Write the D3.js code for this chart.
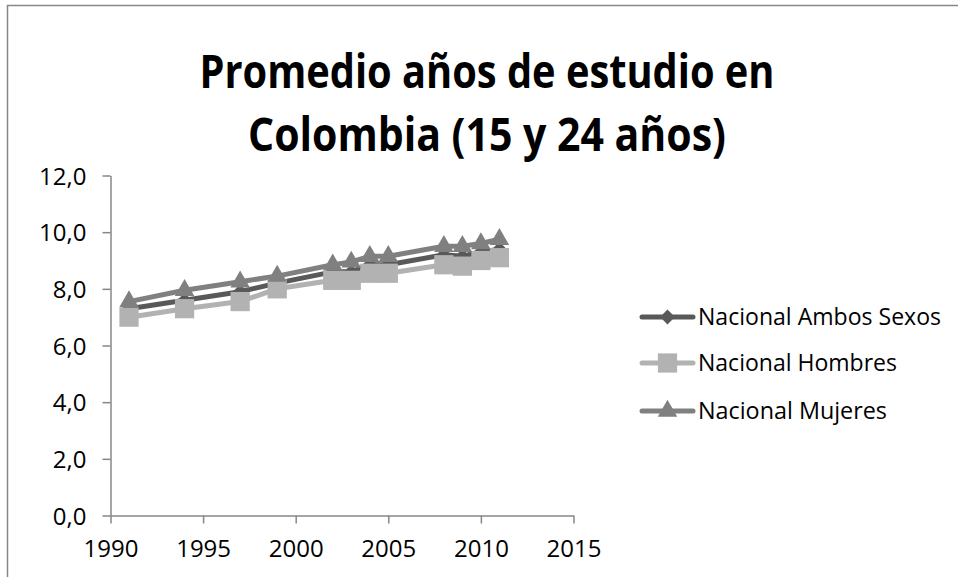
<!DOCTYPE html>
<html>
<head>
<meta charset="utf-8">
<script src="https://cdn.jsdelivr.net/npm/d3@7"></script>
<style>
  html, body { margin: 0; padding: 0; background: #fff; }
  svg { display: block; }
  text { font-family: "Open Sans", "Noto Sans", sans-serif; }
</style>
</head>
<body>
<svg id="chart" width="958" height="577"></svg>
<script>
// ---- Data ----
const years = [1991, 1994, 1997, 1999, 2002, 2003, 2004, 2005, 2008, 2009, 2010, 2011];
const ambos   = [7.3, 7.6, 7.9, 8.2, 8.6, 8.6, 8.85, 8.85, 9.2, 9.15, 9.3, 9.4];
const hombres = [7.0, 7.3, 7.55, 8.0, 8.3, 8.3, 8.55, 8.55, 8.85, 8.8, 9.0, 9.1];
const mujeres = [7.55, 7.95, 8.25, 8.45, 8.85, 8.95, 9.15, 9.15, 9.5, 9.5, 9.6, 9.75];
const seriesNames = ["Nacional Ambos Sexos", "Nacional Hombres", "Nacional Mujeres"];
const xTicks = [1990, 1995, 2000, 2005, 2010, 2015];
const yTicks = [0, 2, 4, 6, 8, 10, 12];
const titleLines = ["Promedio años de estudio en", "Colombia (15 y 24 años)"];

// rotated-square diamond like Excel's
const diamond = {
  draw(ctx, size) {
    const r = Math.sqrt(size / 2);
    ctx.moveTo(0, -r); ctx.lineTo(r, 0); ctx.lineTo(0, r); ctx.lineTo(-r, 0); ctx.closePath();
  }
};

const series = [
  { name: seriesNames[0], values: ambos,   color: "#595959", marker: diamond,          size: 110 },
  { name: seriesNames[1], values: hombres, color: "#b2b2b2", marker: d3.symbolSquare,   size: 370 },
  { name: seriesNames[2], values: mujeres, color: "#808080", marker: d3.symbolTriangle, size: 165 }
];

const svg = d3.select("#chart");

// chart frame
svg.append("path")
  .attr("d", "M7.5,600 L7.5,5.5 L960,5.5")
  .attr("fill", "none").attr("stroke", "#878787").attr("stroke-width", 1.5);

// title
const titleY = [88, 151];
const titleW = [575, 478];
titleLines.forEach((t, i) => {
  svg.append("text")
    .attr("x", 487).attr("y", titleY[i])
    .attr("text-anchor", "middle")
    .attr("font-weight", "bold")
    .attr("font-size", 47)
    .attr("textLength", titleW[i])
    .attr("lengthAdjust", "spacingAndGlyphs")
    .attr("fill", "#000")
    .text(t);
});

const x = d3.scaleLinear().domain([1990, 2015]).range([110.5, 573.5]);
const y = d3.scaleLinear().domain([0, 12]).range([515.5, 175.5]);

const fmt = v => d3.format(".1f")(v).replace(".", ",");

// y axis
const yAxis = svg.append("g").attr("transform", "translate(110.5,0)")
  .call(d3.axisLeft(y).tickValues(yTicks).tickSize(8).tickSizeOuter(0).tickFormat(fmt).tickPadding(16));
// x axis
const xAxis = svg.append("g").attr("transform", "translate(0,515.5)")
  .call(d3.axisBottom(x).tickValues(xTicks).tickSize(8).tickSizeOuter(0).tickFormat(d3.format("d")).tickPadding(16));

[yAxis, xAxis].forEach(a => {
  a.selectAll(".domain").attr("stroke", "#878787").attr("stroke-width", 1.5);
  a.selectAll(".tick line").attr("stroke", "#878787").attr("stroke-width", 1.5);
  a.selectAll(".tick text").attr("font-size", 24).attr("fill", "#000")
    .style("font-family", "'Open Sans', sans-serif");
});
yAxis.selectAll(".tick text").attr("dy", "0.36em");

// lines
const line = d3.line().x((d, i) => x(years[i])).y(d => y(d));
series.forEach(s => {
  svg.append("path").datum(s.values)
    .attr("d", line)
    .attr("fill", "none")
    .attr("stroke", s.color)
    .attr("stroke-width", 5)
    .attr("stroke-linejoin", "round")
    .attr("stroke-linecap", "round");
});
// markers
series.forEach(s => {
  const sym = d3.symbol().type(s.marker).size(s.size);
  svg.append("g").selectAll("path").data(s.values).join("path")
    .attr("transform", (d, i) => `translate(${x(years[i])},${y(d)})`)
    .attr("d", sym)
    .attr("fill", s.color);
});

// legend
const legY = [317, 363, 411];
const legW = [243, 199, 189];
series.forEach((s, i) => {
  const g = svg.append("g").attr("transform", `translate(0,${legY[i]})`);
  g.append("line").attr("x1", 642).attr("x2", 693).attr("y1", 0).attr("y2", 0)
    .attr("stroke", s.color).attr("stroke-width", 5).attr("stroke-linecap", "round");
  g.append("path").attr("transform", "translate(667.5,0)")
    .attr("d", d3.symbol().type(s.marker).size(s.size)())
    .attr("fill", s.color);
  g.append("text").attr("x", 698).attr("y", 0).attr("dy", "0.36em")
    .attr("font-size", 23.5).attr("fill", "#000")
    .attr("textLength", legW[i]).attr("lengthAdjust", "spacingAndGlyphs")
    .text(s.name);
});
</script>
</body>
</html>
